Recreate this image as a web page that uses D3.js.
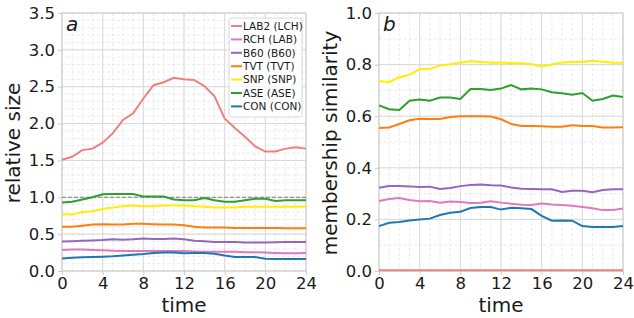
<!DOCTYPE html>
<html>
<head>
<meta charset="utf-8">
<script src="https://cdn.jsdelivr.net/npm/d3@7"></script>
<style>
  body { margin: 0; background: #fff; }
  text { font-family: "DejaVu Sans", sans-serif; }
</style>
</head>
<body>
<div id="chart"></div>
<script>
// time points 0..24
var times = d3.range(0, 25);

var names = ["LAB2 (LCH)", "RCH (LAB)", "B60 (B60)", "TVT (TVT)", "SNP (SNP)", "ASE (ASE)", "CON (CON)"];
var colors = ["#f08080", "#e377c2", "#9467bd", "#ff7f0e", "#ffee00", "#2ca02c", "#1f77b4"];

// panel a: relative size
var sizeLAB2 = [1.51, 1.55, 1.64, 1.66, 1.74, 1.87, 2.05, 2.14, 2.34, 2.52, 2.56, 2.62, 2.60, 2.59, 2.51, 2.37, 2.07, 1.94, 1.82, 1.69, 1.62, 1.62, 1.66, 1.68, 1.66];
var sizeRCH  = [0.285, 0.29, 0.29, 0.285, 0.28, 0.275, 0.27, 0.27, 0.27, 0.27, 0.27, 0.27, 0.27, 0.265, 0.26, 0.26, 0.26, 0.26, 0.255, 0.255, 0.25, 0.245, 0.24, 0.24, 0.245];
var sizeB60  = [0.40, 0.405, 0.41, 0.415, 0.42, 0.43, 0.425, 0.43, 0.44, 0.435, 0.435, 0.44, 0.43, 0.41, 0.405, 0.395, 0.395, 0.395, 0.385, 0.385, 0.385, 0.39, 0.395, 0.395, 0.395];
var sizeTVT  = [0.60, 0.60, 0.615, 0.63, 0.635, 0.63, 0.63, 0.64, 0.64, 0.635, 0.63, 0.63, 0.62, 0.60, 0.59, 0.59, 0.59, 0.585, 0.585, 0.585, 0.585, 0.585, 0.58, 0.58, 0.58];
var sizeSNP  = [0.77, 0.765, 0.80, 0.81, 0.84, 0.86, 0.88, 0.89, 0.88, 0.88, 0.89, 0.89, 0.89, 0.88, 0.87, 0.86, 0.86, 0.86, 0.87, 0.87, 0.87, 0.87, 0.87, 0.87, 0.87];
var sizeASE  = [0.93, 0.94, 0.97, 1.00, 1.04, 1.045, 1.045, 1.045, 1.01, 1.01, 1.01, 0.97, 0.96, 0.96, 0.99, 0.96, 0.94, 0.94, 0.96, 0.98, 0.98, 0.95, 0.96, 0.96, 0.96];
var sizeCON  = [0.17, 0.18, 0.185, 0.19, 0.195, 0.20, 0.21, 0.22, 0.23, 0.245, 0.25, 0.25, 0.24, 0.245, 0.245, 0.235, 0.21, 0.19, 0.19, 0.19, 0.167, 0.163, 0.163, 0.163, 0.163];

// panel b: membership similarity
var simLAB2 = [0.003, 0.003, 0.003, 0.003, 0.003, 0.003, 0.003, 0.003, 0.003, 0.003, 0.003, 0.003, 0.003, 0.003, 0.003, 0.003, 0.003, 0.003, 0.003, 0.003, 0.003, 0.003, 0.003, 0.003, 0.003];
var simRCH  = [0.271, 0.279, 0.283, 0.275, 0.270, 0.271, 0.265, 0.269, 0.267, 0.264, 0.265, 0.270, 0.265, 0.261, 0.257, 0.256, 0.262, 0.258, 0.256, 0.253, 0.248, 0.243, 0.236, 0.236, 0.242];
var simB60  = [0.323, 0.329, 0.329, 0.328, 0.326, 0.327, 0.318, 0.322, 0.329, 0.333, 0.335, 0.332, 0.331, 0.324, 0.319, 0.318, 0.317, 0.317, 0.306, 0.311, 0.311, 0.305, 0.314, 0.317, 0.317];
var simTVT  = [0.554, 0.556, 0.570, 0.584, 0.590, 0.589, 0.589, 0.597, 0.600, 0.600, 0.600, 0.599, 0.588, 0.570, 0.562, 0.562, 0.561, 0.559, 0.559, 0.565, 0.562, 0.562, 0.556, 0.556, 0.557];
var simSNP  = [0.736, 0.733, 0.751, 0.760, 0.782, 0.784, 0.796, 0.801, 0.807, 0.813, 0.810, 0.807, 0.808, 0.805, 0.805, 0.801, 0.793, 0.800, 0.808, 0.810, 0.810, 0.815, 0.811, 0.807, 0.807];
var simASE  = [0.642, 0.627, 0.624, 0.660, 0.665, 0.660, 0.672, 0.672, 0.667, 0.705, 0.705, 0.702, 0.707, 0.721, 0.704, 0.707, 0.704, 0.693, 0.689, 0.683, 0.690, 0.660, 0.667, 0.680, 0.674];
var simCON  = [0.174, 0.187, 0.190, 0.196, 0.200, 0.203, 0.217, 0.226, 0.230, 0.244, 0.248, 0.248, 0.238, 0.245, 0.243, 0.240, 0.214, 0.195, 0.196, 0.195, 0.174, 0.171, 0.171, 0.171, 0.174];

var xTicks = [0, 4, 8, 12, 16, 20, 24];
var yTicksA = [0.0, 0.5, 1.0, 1.5, 2.0, 2.5, 3.0, 3.5];
var yTicksB = [0.0, 0.2, 0.4, 0.6, 0.8, 1.0];

var svg = d3.select("#chart").append("svg")
    .attr("width", 634)
    .attr("height", 318);

function panel(opts) {
  var g = svg.append("g");
  var x = d3.scaleLinear().domain([0, 24]).range([opts.left, opts.left + 244]);
  var y = d3.scaleLinear().domain([0, opts.ymax]).range([271, 13]);

  // minor grid (dashed)
  g.selectAll(".mx").data(d3.range(0, 25)).enter().append("line")
    .attr("x1", d => x(d)).attr("x2", d => x(d))
    .attr("y1", 13).attr("y2", 271)
    .attr("stroke", "#e6e6e6").attr("stroke-width", 0.8)
    .attr("stroke-dasharray", "3,2");
  g.selectAll(".my").data(opts.minor).enter().append("line")
    .attr("x1", x(0)).attr("x2", x(24))
    .attr("y1", d => y(d)).attr("y2", d => y(d))
    .attr("stroke", "#e6e6e6").attr("stroke-width", 0.8)
    .attr("stroke-dasharray", "3,2");

  // major grid
  g.selectAll(".gx").data(xTicks).enter().append("line")
    .attr("x1", d => x(d)).attr("x2", d => x(d))
    .attr("y1", 13).attr("y2", 271)
    .attr("stroke", "#d9d9d9").attr("stroke-width", 1);
  g.selectAll(".gy").data(opts.yticks).enter().append("line")
    .attr("x1", x(0)).attr("x2", x(24))
    .attr("y1", d => y(d)).attr("y2", d => y(d))
    .attr("stroke", "#d9d9d9").attr("stroke-width", 1);

  // frame
  g.append("rect")
    .attr("x", x(0)).attr("y", 13)
    .attr("width", 244).attr("height", 258)
    .attr("fill", "none").attr("stroke", "#d0d0d0").attr("stroke-width", 1);

  // axes
  var xa = g.append("g")
    .attr("transform", "translate(0,271)")
    .call(d3.axisBottom(x).tickValues(xTicks).tickSize(4).tickPadding(2));
  var ya = g.append("g")
    .attr("transform", "translate(" + x(0) + ",0)")
    .call(d3.axisLeft(y).tickValues(opts.yticks).tickFormat(d3.format(".1f")).tickSize(4).tickPadding(3));
  [xa, ya].forEach(a => {
    a.select(".domain").remove();
    a.selectAll("line").attr("stroke", "#cccccc");
    a.selectAll("text").style("font-size", "16.5px").attr("fill", "#1a1a1a");
  });

  if (opts.refLine) {
    g.append("line")
      .attr("x1", x(0)).attr("x2", x(24))
      .attr("y1", y(1)).attr("y2", y(1))
      .attr("stroke", "#808080").attr("stroke-width", 1)
      .attr("stroke-dasharray", "4,2");
  }

  var line = d3.line().x((d, i) => x(times[i])).y(d => y(d));
  opts.series.forEach((s, i) => {
    g.append("path")
      .datum(s)
      .attr("d", line)
      .attr("fill", "none")
      .attr("stroke", colors[i])
      .attr("stroke-width", 2);
  });

  // panel letter
  g.append("text")
    .attr("x", x(0) + 4).attr("y", 31)
    .style("font-size", "20px").style("font-style", "italic")
    .attr("fill", "#1a1a1a")
    .text(opts.letter);

  // axis labels
  g.append("text")
    .attr("text-anchor", "middle")
    .attr("x", x(12)).attr("y", 312)
    .style("font-size", "20px").attr("fill", "#1a1a1a")
    .text("time");
  g.append("text")
    .attr("text-anchor", "middle")
    .attr("transform", "rotate(-90)")
    .attr("x", -143).attr("y", opts.left - 42)
    .style("font-size", "20px").attr("fill", "#1a1a1a")
    .text(opts.ylabel);
}

panel({left: 62, ymax: 3.5, yticks: yTicksA, minor: d3.range(0, 36).map(d => d / 10),
       series: [sizeLAB2, sizeRCH, sizeB60, sizeTVT, sizeSNP, sizeASE, sizeCON],
       letter: "a", ylabel: "relative size", refLine: true});
panel({left: 379, ymax: 1.0, yticks: yTicksB, minor: d3.range(0, 11).map(d => d / 10),
       series: [simLAB2, simRCH, simB60, simTVT, simSNP, simASE, simCON],
       letter: "b", ylabel: "membership similarity", refLine: false});

// legend in panel a
var leg = svg.append("g");
leg.append("rect")
  .attr("x", 229).attr("y", 18).attr("width", 73).attr("height", 99)
  .attr("rx", 3)
  .attr("fill", "white").attr("fill-opacity", 0.85)
  .attr("stroke", "#d8d8d8");
names.forEach((n, i) => {
  var yy = 26 + i * 13.4;
  leg.append("line")
    .attr("x1", 231).attr("x2", 242)
    .attr("y1", yy).attr("y2", yy)
    .attr("stroke", colors[i]).attr("stroke-width", 2);
  leg.append("text")
    .attr("x", 243).attr("y", yy + 3.8)
    .style("font-size", "10.5px").attr("fill", "#1a1a1a")
    .text(n);
});
</script>
</body>
</html>
